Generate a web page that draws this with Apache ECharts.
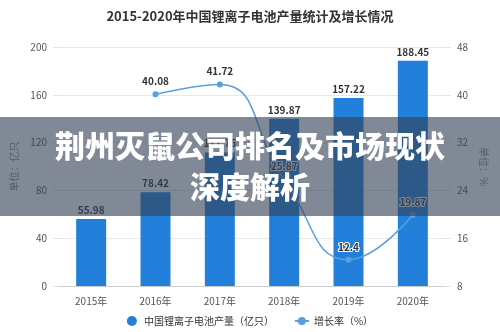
<!DOCTYPE html>
<html>
<head>
<meta charset="utf-8">
<script src="https://cdn.jsdelivr.net/npm/echarts@6/dist/echarts.min.js"></script>
<style>
  html, body { margin: 0; padding: 0; background: #fff; }
  #chart { width: 500px; height: 332px; }
</style>
</head>
<body>
<div id="chart"></div>
<script>
// Lithium-ion battery output in China, 2015-2020
const years = ['2015年', '2016年', '2017年', '2018年', '2019年', '2020年'];
const output = [55.98, 78.42, 111.76, 139.87, 157.22, 188.45];   // 亿只
const growth = [null, 40.08, 41.72, 25.87, 12.4, 19.87];          // %
const outputName = '中国锂离子电池产量（亿只）';
const growthName = '增长率（%）';
const chartTitle = '2015-2020年中国锂离子电池产量统计及增长情况';
const bannerLines = ['荆州灭鼠公司排名及市场现状', '深度解析'];

const FONT = '"Noto Sans CJK SC", "Noto Sans", sans-serif';
const chart = echarts.init(document.getElementById('chart'), null, { renderer: 'canvas' });

chart.setOption({
  backgroundColor: '#fff',
  textStyle: { fontFamily: FONT },
  title: {
    text: chartTitle,
    left: 'center',
    top: 5,
    textStyle: { fontFamily: FONT, fontSize: 13, fontWeight: 'bold', color: '#333' }
  },
  legend: {
    bottom: 1,
    left: 'center',
    itemGap: 20,
    itemWidth: 14,
    itemHeight: 10,
    textStyle: { fontFamily: FONT, fontSize: 10, color: '#333' },
    data: [
      { name: outputName, icon: 'circle' },
      { name: growthName }
    ]
  },
  grid: { left: 59, right: 55, top: 47, bottom: 46 },
  xAxis: {
    type: 'category',
    data: years,
    axisLine: { lineStyle: { color: '#ccc' } },
    axisTick: { show: false },
    axisLabel: { color: '#555', fontSize: 10, margin: 10 }
  },
  yAxis: [
    {
      type: 'value',
      min: 0, max: 200, interval: 40,
      name: '单位：亿只',
      nameLocation: 'middle',
      nameGap: 35,
      nameRotate: 90,
      nameTextStyle: { color: '#888', fontSize: 10 },
      axisLine: { show: false },
      axisTick: { show: true, length: 6, lineStyle: { color: '#e3e3e3' } },
      axisLabel: { color: '#555', fontSize: 10, margin: 12 },
      splitLine: { lineStyle: { color: '#e8e8e8' } }
    },
    {
      type: 'value',
      min: 8, max: 48, interval: 8,
      name: '单位：%',
      nameLocation: 'middle',
      nameGap: 30,
      nameRotate: -90,
      nameTextStyle: { color: '#888', fontSize: 10 },
      axisLine: { show: false },
      axisTick: { show: true, length: 6, lineStyle: { color: '#e3e3e3' } },
      axisLabel: { color: '#555', fontSize: 10, margin: 12 },
      splitLine: { show: false }
    }
  ],
  series: [
    {
      name: outputName,
      type: 'bar',
      data: output,
      barWidth: 30,
      itemStyle: { color: '#2380da' },
      label: {
        show: true,
        position: 'top',
        distance: 4,
        color: '#333',
        fontSize: 10,
        fontWeight: 'bold'
      }
    },
    {
      name: growthName,
      type: 'line',
      yAxisIndex: 1,
      data: growth,
      smooth: true,
      symbol: 'circle',
      symbolSize: 6,
      lineStyle: { color: '#5b9fdc', width: 1.5 },
      itemStyle: { color: '#5b9fdc' },
      label: {
        show: true,
        position: 'top',
        distance: 5,
        color: '#333',
        fontSize: 10,
        fontWeight: 'bold',
        textBorderColor: '#fff',
        textBorderWidth: 2
      },
      z: 3
    }
  ],
  graphic: [
    {
      type: 'rect',
      left: 0,
      top: 117,
      shape: { width: 500, height: 99 },
      style: { fill: 'rgba(52,65,87,0.62)' },
      z: 100
    },
    {
      type: 'text',
      left: 'center',
      top: 131,
      style: {
        text: bannerLines[0],
        font: '900 30px "Noto Sans CJK SC", sans-serif',
        fill: '#fff',
        shadowColor: 'rgba(0,0,0,0.35)',
        shadowBlur: 3,
        shadowOffsetY: 1
      },
      z: 101
    },
    {
      type: 'text',
      left: 'center',
      top: 172,
      style: {
        text: bannerLines[1],
        font: '900 30px "Noto Sans CJK SC", sans-serif',
        fill: '#fff',
        shadowColor: 'rgba(0,0,0,0.35)',
        shadowBlur: 3,
        shadowOffsetY: 1
      },
      z: 101
    }
  ]
});
</script>
</body>
</html>
